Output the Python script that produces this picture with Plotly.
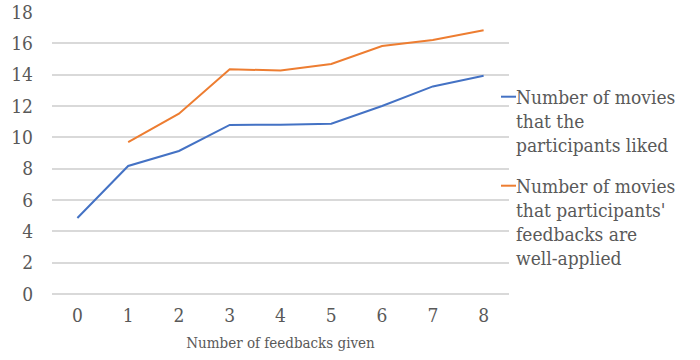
import plotly.graph_objects as go

# Data
feedbacks = ["0", "1", "2", "3", "4", "5", "6", "7", "8"]
movies_liked = [4.85, 8.17, 9.13, 10.79, 10.81, 10.87, 12.0, 13.25, 13.93]
movies_well_applied = [None, 9.70, 11.51, 14.34, 14.27, 14.68, 15.83, 16.21, 16.83]
y_ticks = [0, 2, 4, 6, 8, 10, 12, 14, 16, 18]

series_names = [
    ["Number of movies", "that the", "participants liked"],
    ["Number of movies", "that participants'", "feedbacks are", "well-applied"],
]
series_colors = ["#4472C4", "#ED7D31"]

FONT = "DejaVu Serif Condensed, DejaVu Serif"
TEXT = "#595959"
GRID = "#D9D9D9"

# Plot-area geometry (pixels)
W, H = 700, 360
L, R, T, B = 52, 191, 12, 66
pw, ph = W - L - R, H - T - B

fig = go.Figure()
for vals, name, col in zip([movies_liked, movies_well_applied], series_names, series_colors):
    fig.add_trace(go.Scatter(
        x=feedbacks, y=vals, mode="lines", name=" ".join(name),
        line=dict(color=col, width=2), connectgaps=False,
        showlegend=False,
    ))

def px_x(px):
    return (px - L) / pw

def px_y(py):
    return (H - B - py) / ph

# Legend drawn at the right of the plot area, one annotation per text line
LINE_GAP = 24
legend_tops = [96.7, 185.7]
for top, name, col in zip(legend_tops, series_names, series_colors):
    fig.add_shape(type="line", xref="paper", yref="paper",
                  x0=px_x(501), x1=px_x(516), y0=px_y(top), y1=px_y(top),
                  line=dict(color=col, width=2))
    for i, line in enumerate(name):
        fig.add_annotation(xref="paper", yref="paper", x=px_x(514),
                           y=px_y(top + i * LINE_GAP),
                           xanchor="left", yanchor="middle", align="left",
                           text=line, showarrow=False,
                           font=dict(family=FONT, size=19, color=TEXT))

fig.update_layout(
    width=W, height=H,
    margin=dict(l=L, r=R, t=T, b=B, pad=0, autoexpand=False),
    paper_bgcolor="white", plot_bgcolor="white",
    font=dict(family=FONT, size=19, color=TEXT),
    xaxis=dict(
        type="category", range=[-0.5, 8.5], automargin=False,
        showgrid=False, zeroline=False, showline=False,
        ticks="", ticklabelstandoff=8,
        tickfont=dict(family=FONT, size=19, color=TEXT),
        title=dict(text="Number of feedbacks given",
                   font=dict(family=FONT, size=15, color=TEXT), standoff=12),
    ),
    yaxis=dict(
        range=[0, 18], tickvals=y_ticks, automargin=False,
        showgrid=True, gridcolor=GRID, gridwidth=1.5,
        zeroline=True, zerolinecolor=GRID, zerolinewidth=1.5,
        showline=False, ticks="", ticklabelstandoff=18,
        tickfont=dict(family=FONT, size=19, color=TEXT),
    ),
)

fig.write_html("out.html")
